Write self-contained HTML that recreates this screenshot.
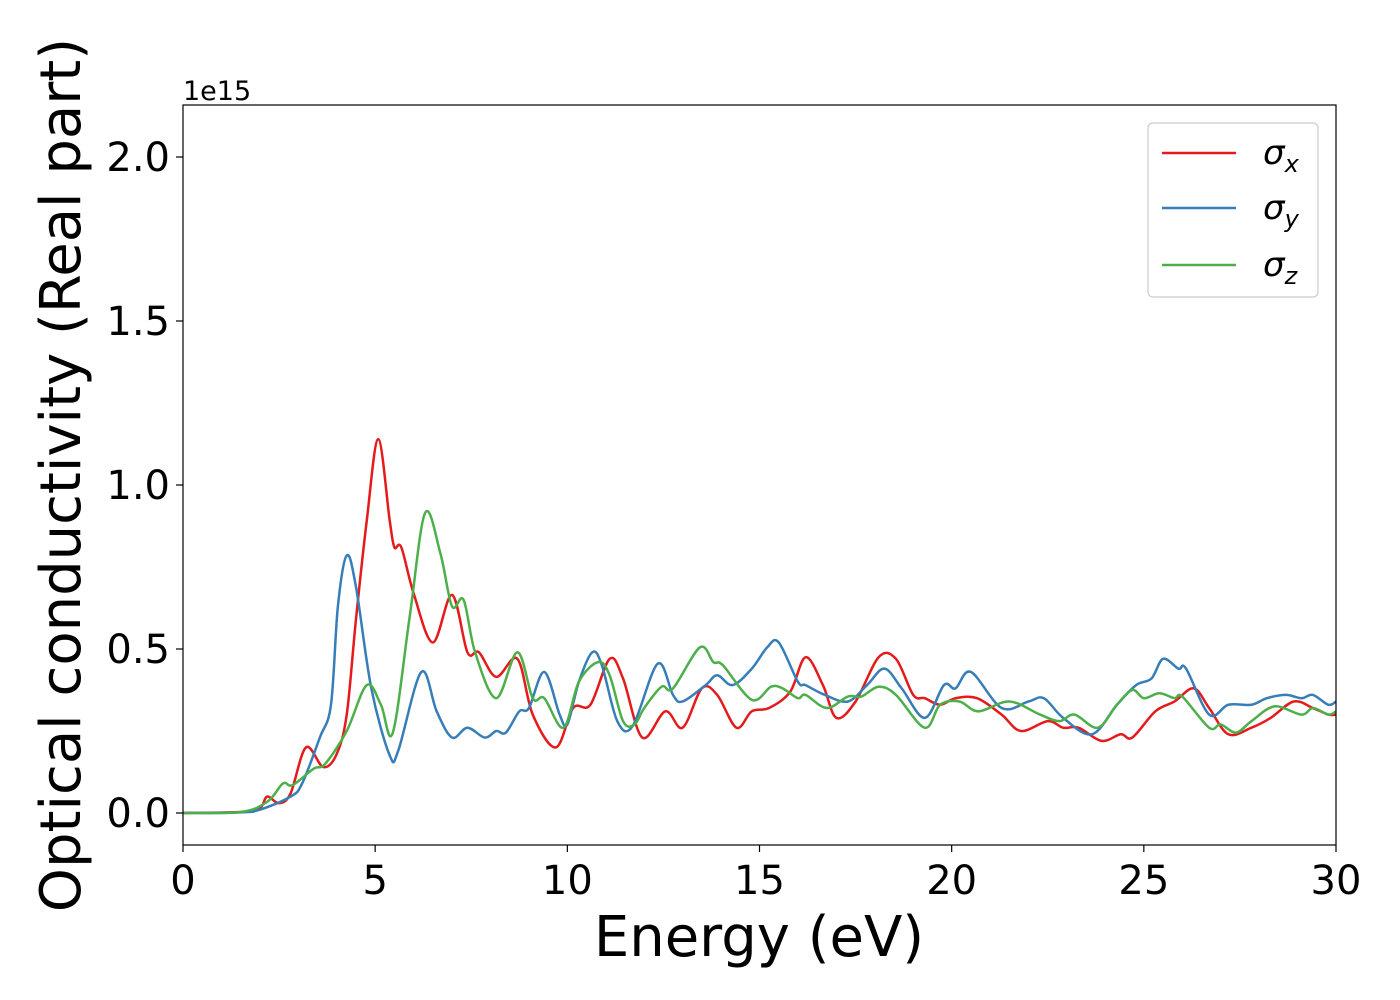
<!DOCTYPE html>
<html><head><meta charset="utf-8"><style>
html,body{margin:0;padding:0;background:#fff;}
svg{display:block;font-family:"DejaVu Sans","Liberation Sans",sans-serif;}
</style></head><body>
<svg id="chart" width="1400" height="1000" viewBox="0 0 1400 1000" xmlns="http://www.w3.org/2000/svg">
<rect x="0" y="0" width="1400" height="1000" fill="#fff"/>
<g id="curves"></g>
<rect x="183" y="105" width="1153" height="740" fill="none" stroke="#000" stroke-width="1.2"/>
<g id="xticks"></g>
<g id="yticks"></g>
<text x="183" y="100" font-size="27">1e15</text>
<text x="759" y="956" font-size="56" text-anchor="middle">Energy (eV)</text>
<text transform="translate(80,475) rotate(-90)" font-size="56" text-anchor="middle">Optical conductivity (Real part)</text>
<g>
<rect x="1148" y="123" width="170" height="174" rx="5" fill="#fff" fill-opacity="0.8" stroke="#ccc" stroke-width="1.2"/>
<line x1="1162" y1="153" x2="1236" y2="153" stroke="#e41a1c" stroke-width="2.5"/>
<text x="1263" y="164" font-size="34"><tspan font-style="italic">σ</tspan><tspan font-size="24" dy="8" font-style="italic">x</tspan></text>
<line x1="1162" y1="208" x2="1236" y2="208" stroke="#377eb8" stroke-width="2.5"/>
<text x="1263" y="219" font-size="34"><tspan font-style="italic">σ</tspan><tspan font-size="24" dy="8" font-style="italic">y</tspan></text>
<line x1="1162" y1="265" x2="1236" y2="265" stroke="#4daf4a" stroke-width="2.5"/>
<text x="1263" y="276" font-size="34"><tspan font-style="italic">σ</tspan><tspan font-size="24" dy="8" font-style="italic">z</tspan></text>
</g>
</svg>
<script>
const xTicks=[0,5,10,15,20,25,30];
const yTicks=[0,0.5,1.0,1.5,2.0];
const yTickLabels=["0.0","0.5","1.0","1.5","2.0"];
const sxE=[0,1.5,2,2.19,2.5,2.8,3.2,3.65,4.0,4.26,4.5,4.78,5.08,5.38,5.5,5.68,6.0,6.5,7.0,7.4,7.7,8.15,8.7,9.1,9.7,10.15,10.6,11.1,11.45,11.95,12.55,13.0,13.5,13.9,14.4,14.8,15.25,15.8,16.2,16.65,17.0,17.5,18.1,18.55,19.0,19.3,19.7,20.1,20.66,21.3,21.8,22.5,22.9,23.3,23.9,24.4,24.7,25.3,25.8,26.3,26.7,27.2,27.8,28.3,28.9,29.4,29.8,30];
const sxV=[0,0.003,0.015,0.05,0.03,0.06,0.2,0.14,0.18,0.3,0.59,0.89,1.14,0.89,0.81,0.81,0.67,0.52,0.665,0.49,0.49,0.415,0.47,0.3,0.2,0.32,0.33,0.47,0.41,0.23,0.31,0.26,0.38,0.36,0.26,0.31,0.32,0.37,0.475,0.39,0.29,0.34,0.475,0.47,0.36,0.35,0.33,0.35,0.35,0.3,0.25,0.28,0.26,0.26,0.22,0.24,0.23,0.31,0.34,0.38,0.32,0.24,0.26,0.29,0.34,0.32,0.3,0.3];
const syE=[0,1.5,2.0,2.8,3.1,3.56,3.85,4.03,4.26,4.5,4.9,5.38,5.6,6.2,6.6,7.0,7.4,7.85,8.15,8.4,8.75,9.0,9.4,9.8,10.0,10.3,10.65,10.9,11.3,11.7,12.35,12.75,13.0,13.6,13.9,14.3,14.8,15.2,15.5,16.0,16.2,16.7,17.3,17.8,18.25,18.7,19.3,19.8,20.1,20.5,21.3,22.0,22.4,22.9,23.65,24.3,24.8,25.2,25.5,25.9,26.1,26.7,27.2,27.8,28.2,28.7,29.1,29.4,29.8,30];
const syV=[0,0.002,0.01,0.05,0.09,0.23,0.33,0.63,0.785,0.69,0.38,0.175,0.19,0.43,0.31,0.23,0.26,0.23,0.25,0.245,0.31,0.32,0.43,0.3,0.27,0.4,0.49,0.45,0.28,0.265,0.455,0.36,0.34,0.39,0.42,0.39,0.44,0.505,0.52,0.4,0.39,0.36,0.34,0.39,0.44,0.38,0.29,0.39,0.38,0.43,0.32,0.34,0.35,0.29,0.24,0.33,0.39,0.41,0.47,0.44,0.44,0.3,0.33,0.33,0.35,0.36,0.35,0.36,0.33,0.34];
const szE=[0,1.5,2.2,2.6,2.85,3.4,3.7,4.26,4.78,5.15,5.46,5.9,6.3,6.7,7.0,7.3,7.6,8.15,8.7,9.1,9.4,9.9,10.3,10.8,11.1,11.45,11.75,12.0,12.45,12.75,13.45,13.8,14.05,14.8,15.3,15.6,16.0,16.2,16.75,17.3,17.65,18.1,18.55,19.3,19.7,20.2,20.7,21.5,22.3,22.8,23.2,23.8,24.3,24.7,25.0,25.4,25.8,26.0,26.7,27.0,27.4,27.8,28.4,29.1,29.4,29.8,30];
const szV=[0,0.003,0.035,0.09,0.085,0.135,0.15,0.25,0.39,0.33,0.245,0.6,0.915,0.79,0.63,0.65,0.49,0.35,0.49,0.35,0.35,0.26,0.4,0.46,0.42,0.28,0.27,0.32,0.385,0.38,0.505,0.46,0.45,0.345,0.385,0.38,0.35,0.36,0.32,0.355,0.355,0.385,0.36,0.26,0.33,0.34,0.31,0.34,0.3,0.28,0.3,0.26,0.33,0.375,0.35,0.365,0.35,0.355,0.26,0.27,0.245,0.28,0.325,0.3,0.32,0.3,0.31];
const X0=183,X1=1336,Y0=813,YS=328;
function xs(e){return X0+(X1-X0)*e/30;}
function ys(v){return Y0-YS*v;}
const NS="http://www.w3.org/2000/svg";
function pathFor(E,V){
  const p=E.map((e,i)=>[xs(e),ys(V[i])]);
  let d="M"+p[0][0].toFixed(2)+","+p[0][1].toFixed(2);
  for(let i=0;i<p.length-1;i++){
    const a=p[Math.max(i-1,0)],b=p[i],c=p[i+1],n=p[Math.min(i+2,p.length-1)];
    const c1=[b[0]+(c[0]-a[0])/6,b[1]+(c[1]-a[1])/6];
    const c2=[c[0]-(n[0]-b[0])/6,c[1]-(n[1]-b[1])/6];
    d+="C"+c1[0].toFixed(2)+","+c1[1].toFixed(2)+" "+c2[0].toFixed(2)+","+c2[1].toFixed(2)+" "+c[0].toFixed(2)+","+c[1].toFixed(2);
  }
  return d;
}
const g=document.getElementById("curves");
[[sxE,sxV,"#e41a1c","series-sigma-x"],[syE,syV,"#377eb8","series-sigma-y"],[szE,szV,"#4daf4a","series-sigma-z"]].forEach(s=>{
  const el=document.createElementNS(NS,"path");
  el.setAttribute("d",pathFor(s[0],s[1]));
  el.setAttribute("fill","none");
  el.setAttribute("stroke",s[2]);
  el.setAttribute("stroke-width","2.5");
  el.setAttribute("stroke-linejoin","round");
  
  
  g.appendChild(el);
});
const xt=document.getElementById("xticks");
xTicks.forEach(t=>{
  const l=document.createElementNS(NS,"line");
  l.setAttribute("x1",xs(t));l.setAttribute("x2",xs(t));
  l.setAttribute("y1",845);l.setAttribute("y2",852);
  l.setAttribute("stroke","#000");l.setAttribute("stroke-width","1.2");
  
  
  xt.appendChild(l);
  const tx=document.createElementNS(NS,"text");
  tx.setAttribute("x",xs(t));tx.setAttribute("y",894);
  tx.setAttribute("font-size","40");tx.setAttribute("text-anchor","middle");
  tx.textContent=String(t);
  
  
  xt.appendChild(tx);
});
const yt=document.getElementById("yticks");
yTicks.forEach((t,i)=>{
  const l=document.createElementNS(NS,"line");
  l.setAttribute("x1",176);l.setAttribute("x2",183);
  l.setAttribute("y1",ys(t));l.setAttribute("y2",ys(t));
  l.setAttribute("stroke","#000");l.setAttribute("stroke-width","1.2");
  
  
  yt.appendChild(l);
  const tx=document.createElementNS(NS,"text");
  tx.setAttribute("x",170);tx.setAttribute("y",ys(t)+14);
  tx.setAttribute("font-size","40");tx.setAttribute("text-anchor","end");
  tx.textContent=yTickLabels[i];
  
  
  yt.appendChild(tx);
});
</script>
</body></html>
